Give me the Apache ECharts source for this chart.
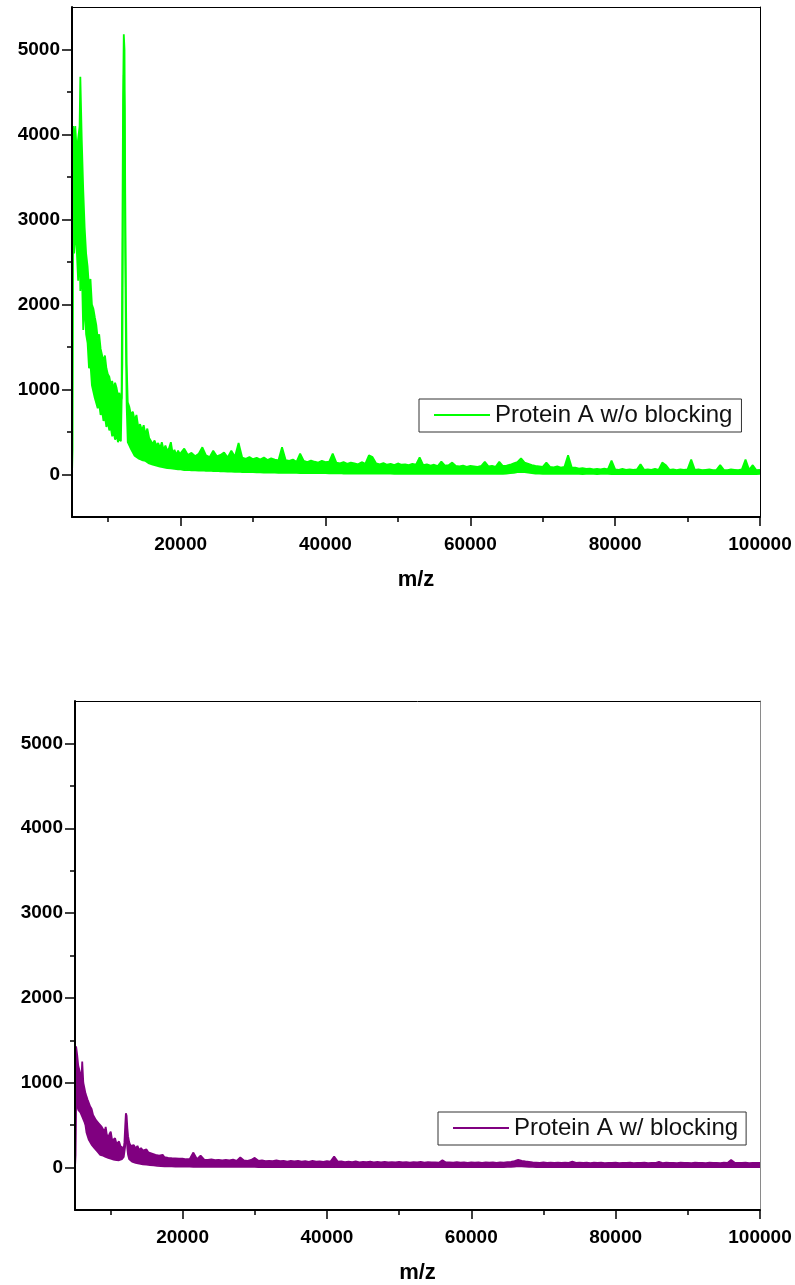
<!DOCTYPE html>
<html>
<head>
<meta charset="utf-8">
<title>Protein A mass spectra</title>
<script src="https://cdn.jsdelivr.net/npm/echarts@6/dist/echarts.min.js"></script>
<style>
  html, body { margin: 0; padding: 0; background: #ffffff; }
  #chart { width: 795px; height: 1285px; }
</style>
</head>
<body>
<div id="chart"></div>
<script>
// Spectra are stored as a lower and an upper intensity edge at each m/z sample;
// the band between the two edges is filled to give the dense noise trace.

// Low-mass region of the spectrum without blocking
const mzTopHead = [5000,5080,5150,5300,5450,5650,5850,6050,6150,6350,6550,6750,6950,
  7150,7350,7550,7750,7950,8150,8350,8550,8750,8950,9150,9350,9550,9750,9950,
  10150,10350,10550,10750,10950,11150,11350,11550,11750,
  11850,11950,12050,12150,12250,12350,12450,12550,12700,
  12900,13150,13400,13650,13900,14150,14400,14650,14900,15150,15400,15650,15900,
  16150,16400,16650,16900,17150,17400,17650,17900,18150,18400,18650,18900,
  19150,19400,19650,19900];
const hiTopHead = [0,3900,4100,3900,4100,3800,3950,4100,4680,3930,3350,2900,2600,
  2450,2200,2300,2000,1950,1850,1760,1600,1650,1480,1460,1330,1400,1250,1180,
  1150,1060,1100,1000,1080,1020,930,960,870,
  900,2700,4400,5180,5000,3300,2100,1300,850,
  800,700,740,640,700,560,590,520,580,470,540,430,420,
  360,400,340,370,310,380,290,340,280,310,380,250,
  290,230,280,240];
const loTopHead = [0,300,2800,2600,2900,2650,2280,2750,2160,2450,1700,2050,1650,
  1550,1250,1300,1050,1050,900,920,780,830,700,750,630,680,560,620,
  520,560,450,500,410,470,380,440,390,
  380,1300,3300,4700,4300,2600,1500,800,380,
  380,300,290,220,230,190,205,170,185,160,165,130,140,
  115,125,105,112,92,100,84,92,76,82,72,76,
  66,72,60,66];

// Low-mass region of the spectrum with blocking
const mzBottomHead = [5100,5180,5250,5400,5550,5700,5850,6000,6100,6250,
  6400,6550,6700,6850,7000,7200,7400,7600,7800,8000,
  8200,8400,8600,8800,9000,9200,9350,9500,9700,9850,
  10050,10250,10450,10650,10850,11050,11200,11400,11600,11850,
  11950,12050,12150,12250,12350,12450,12600,12800,13000,13250,
  13500,13750,14000,14250,14500,14750,15000,15250,15500,15750,
  16000,16250,16500,16750,17000,17250,17500,17750,18000,18250,
  18500,18750,19000,19250,19500,19750];
const hiBottomHead = [0,1300,1430,1330,1200,1220,1100,1050,1250,1000,
  940,875,860,800,815,720,690,620,600,560,
  570,520,530,480,460,420,480,390,360,390,
  425,320,310,345,280,280,307,250,250,228,
  300,480,640,610,470,370,300,255,250,265,
  225,255,205,230,200,195,215,180,200,165,
  175,150,165,140,138,150,122,135,115,130,
  110,125,108,118,104,112];
const loBottomHead = [0,150,700,740,680,700,650,660,600,620,
  540,500,410,400,330,320,270,270,230,235,
  190,180,150,158,140,140,125,130,115,120,
  105,110,95,100,88,92,86,95,100,125,
  140,250,420,380,230,150,100,85,70,62,
  56,50,46,42,39,36,34,31,29,27,
  25,23,21,19,18,17,16,15,15,14,
  14,13,13,13,12,12];

// High-mass region, sampled every 500 m/z, shared by both spectra
const mzTail = [
  20000,20500,21000,21500,22000,22500,23000,23500,24000,24500,
  25000,25500,26000,26500,27000,27500,28000,28500,29000,29500,
  30000,30500,31000,31500,32000,32500,33000,33500,34000,34500,
  35000,35500,36000,36500,37000,37500,38000,38500,39000,39500,
  40000,40500,41000,41500,42000,42500,43000,43500,44000,44500,
  45000,45500,46000,46500,47000,47500,48000,48500,49000,49500,
  50000,50500,51000,51500,52000,52500,53000,53500,54000,54500,
  55000,55500,56000,56500,57000,57500,58000,58500,59000,59500,
  60000,60500,61000,61500,62000,62500,63000,63500,64000,64500,
  65000,65500,66000,66500,67000,67500,68000,68500,69000,69500,
  70000,70500,71000,71500,72000,72500,73000,73500,74000,74500,
  75000,75500,76000,76500,77000,77500,78000,78500,79000,79500,
  80000,80500,81000,81500,82000,82500,83000,83500,84000,84500,
  85000,85500,86000,86500,87000,87500,88000,88500,89000,89500,
  90000,90500,91000,91500,92000,92500,93000,93500,94000,94500,
  95000,95500,96000,96500,97000,97500,98000,98500,99000,99500,
  100000];
const hiTopTail = [
  250,305,230,255,215,245,320,225,205,280,
  215,230,260,200,280,210,370,200,185,205,
  180,195,175,200,170,190,175,165,320,170,
  160,175,150,245,160,145,165,150,140,160,
  145,150,245,140,130,145,125,140,130,120,
  145,125,225,205,130,120,135,115,125,110,
  130,115,120,110,125,115,200,110,120,105,
  115,100,153,105,110,140,100,95,105,90,
  100,95,90,100,150,95,100,90,150,100,
  105,115,130,145,190,140,125,110,100,95,
  90,140,90,85,95,80,90,225,85,80,
  70,75,65,70,60,65,60,70,60,165,
  60,55,65,55,60,55,60,120,55,60,
  55,65,55,140,110,55,60,50,60,55,
  60,175,55,60,50,55,60,50,55,110,
  55,50,60,55,50,60,175,55,110,50,
  55];
const loTopTail = [
  60,52,55,48,50,45,48,42,45,40,
  42,36,38,33,35,30,33,28,30,27,
  28,24,26,22,25,21,23,20,22,19,
  21,18,20,17,19,16,18,15,17,15,
  16,14,15,13,15,12,14,12,13,11,
  13,11,12,10,12,10,11,10,12,9,
  11,9,10,9,11,8,10,9,10,8,
  10,8,9,8,10,8,9,7,9,8,
  9,7,9,8,9,7,9,8,10,9,
  12,15,20,28,32,28,22,16,12,10,
  9,8,9,7,9,8,9,7,8,7,
  8,6,8,7,8,6,8,7,8,6,
  8,6,7,6,8,6,7,6,8,6,
  7,6,8,6,7,6,8,6,7,6,
  7,6,8,6,7,6,8,6,7,6,
  7,6,8,6,7,6,8,6,7,6,
  7];
const hiBottomTail = [
  105,98,102,177,100,140,95,92,98,88,
  92,85,90,84,94,80,120,84,80,90,
  115,80,85,75,80,75,85,75,80,70,
  78,72,80,70,75,68,78,70,72,68,
  75,70,130,70,72,65,70,65,72,62,
  68,64,70,62,66,60,68,62,65,60,
  66,60,64,58,65,60,66,58,64,60,
  62,58,85,60,62,58,63,57,62,56,
  62,58,60,56,62,57,60,56,62,58,
  64,66,75,90,80,72,66,60,58,55,
  60,56,58,55,59,54,58,56,70,55,
  58,54,57,53,58,54,57,53,56,54,
  57,53,56,54,58,53,56,54,57,53,
  56,54,68,53,57,54,56,53,57,54,
  56,53,57,54,56,53,57,54,56,53,
  57,54,90,58,56,54,57,53,56,54,
  55];
const loBottomTail = [
  12,11,12,10,11,10,11,10,11,9,
  10,9,10,9,10,8,9,8,9,8,
  8,7,8,6,8,7,8,6,8,7,
  8,6,7,6,8,7,8,6,7,6,
  8,6,9,6,7,6,8,6,7,6,
  8,6,7,6,8,6,7,6,8,6,
  7,6,8,6,7,6,8,6,7,6,
  8,6,9,6,7,6,8,6,7,6,
  8,6,7,6,8,6,7,6,8,7,
  9,10,12,16,15,12,10,8,7,6,
  8,6,7,6,8,6,7,6,8,6,
  7,6,8,6,7,6,8,6,7,6,
  8,6,7,6,8,6,7,6,8,6,
  7,6,8,6,7,6,8,6,7,6,
  8,6,7,6,8,6,7,6,8,6,
  7,6,9,6,7,6,8,6,7,6,
  7];

// Axis ticks and labels
const xLabelValues = [20000, 40000, 60000, 80000, 100000];
const xMinorValues = [10000, 30000, 50000, 70000, 90000];
const yLabelValues = [0, 1000, 2000, 3000, 4000, 5000];
const yMinorValues = [500, 1500, 2500, 3500, 4500];

const seriesNames = ['Protein A w/o blocking', 'Protein A w/ blocking'];
const seriesColors = ['#00ff00', '#800080'];

const FONT = 'Liberation Sans, Arial, Helvetica, sans-serif';
const X_MAX = 100000;
const Y_MIN = -500;
const Y_MAX = 5500;

const mzTop = mzTopHead.concat(mzTail);
const loTop = loTopHead.concat(loTopTail);
const hiTop = hiTopHead.concat(hiTopTail);
const mzBottom = mzBottomHead.concat(mzTail);
const loBottom = loBottomHead.concat(loBottomTail);
const hiBottom = hiBottomHead.concat(hiBottomTail);

const panels = [
  { mz: mzTop, lo: loTop, hi: hiTop, xMin: 5000,
    grid: { left: 72, right: 35, top: 7, height: 510 },
    legend: { left: 419, top: 399, padding: [4, 9, 5, 15] }, frameRight: '#000000' },
  { mz: mzBottom, lo: loBottom, hi: hiBottom, xMin: 5100,
    grid: { left: 75, right: 35, top: 701, height: 509 },
    legend: { left: 438, top: 1112, padding: [4, 8, 5, 15] }, frameRight: '#8a8a8a' }
];

const grids = [], xAxes = [], yAxes = [], series = [], legends = [];

panels.forEach((p, i) => {
  grids.push(Object.assign({ containLabel: false }, p.grid));
  const xBase = xAxes.length;
  const yBase = yAxes.length;
  const name = seriesNames[i];
  const color = seriesColors[i];

  // main x axis: long ticks and labels
  xAxes.push({
    type: 'value', gridIndex: i, position: 'bottom', min: p.xMin, max: X_MAX, z: 6,
    name: 'm/z', nameLocation: 'middle', nameGap: 52,
    nameTextStyle: { fontFamily: FONT, fontSize: 22, fontWeight: 'bold', color: '#000' },
    axisLine: { show: true, onZero: false, lineStyle: { color: '#000', width: 2 } },
    axisTick: { show: true, customValues: xLabelValues, length: 9, lineStyle: { color: '#000', width: 1.5 } },
    axisLabel: { show: true, customValues: xLabelValues, margin: 18, formatter: v => String(v),
      fontFamily: FONT, fontSize: 19, fontWeight: 'bold', color: '#000' },
    splitLine: { show: false }
  });
  // minor x ticks
  xAxes.push({
    type: 'value', gridIndex: i, position: 'bottom', min: p.xMin, max: X_MAX, z: 6,
    axisLine: { show: false, onZero: false },
    axisTick: { show: true, customValues: xMinorValues, length: 5, lineStyle: { color: '#000', width: 1.5 } },
    axisLabel: { show: false }, splitLine: { show: false }
  });
  // top frame edge
  xAxes.push({
    type: 'value', gridIndex: i, position: 'top', min: p.xMin, max: X_MAX, z: 6,
    axisLine: { show: true, onZero: false, lineStyle: { color: '#000', width: 1 } },
    axisTick: { show: false }, axisLabel: { show: false }, splitLine: { show: false }
  });

  // main y axis
  yAxes.push({
    type: 'value', gridIndex: i, position: 'left', min: Y_MIN, max: Y_MAX, z: 6,
    axisLine: { show: true, onZero: false, lineStyle: { color: '#000', width: 2 } },
    axisTick: { show: true, customValues: yLabelValues, length: 10, lineStyle: { color: '#000', width: 1.5 } },
    axisLabel: { show: true, customValues: yLabelValues, margin: 12, formatter: v => String(v),
      fontFamily: FONT, fontSize: 19, fontWeight: 'bold', color: '#000' },
    splitLine: { show: false }
  });
  // minor y ticks
  yAxes.push({
    type: 'value', gridIndex: i, position: 'left', min: Y_MIN, max: Y_MAX, z: 6,
    axisLine: { show: false, onZero: false },
    axisTick: { show: true, customValues: yMinorValues, length: 5, lineStyle: { color: '#000', width: 1.5 } },
    axisLabel: { show: false }, splitLine: { show: false }
  });
  // right frame edge
  yAxes.push({
    type: 'value', gridIndex: i, position: 'right', min: Y_MIN, max: Y_MAX, z: 6,
    axisLine: { show: true, onZero: false, lineStyle: { color: p.frameRight, width: 1 } },
    axisTick: { show: false }, axisLabel: { show: false }, splitLine: { show: false }
  });

  // upper edge of the noise band, filled down to zero intensity
  series.push({
    type: 'line', name: name, xAxisIndex: xBase, yAxisIndex: yBase,
    symbol: 'none', silent: true, z: 3,
    data: p.mz.map((m, k) => [m, p.hi[k]]),
    lineStyle: { color: color, width: 1.8 },
    areaStyle: { color: color, opacity: 1, origin: 0 },
    itemStyle: { color: color }
  });
  // lower edge: clears everything beneath it so only the band between the edges stays coloured
  series.push({
    type: 'line', name: name + ' (lower edge)', xAxisIndex: xBase, yAxisIndex: yBase,
    symbol: 'none', silent: true, z: 3,
    data: p.mz.map((m, k) => [m, p.lo[k]]),
    lineStyle: { color: color, width: 1.8 },
    areaStyle: { color: '#ffffff', opacity: 1, origin: 'start' },
    itemStyle: { color: color }
  });

  legends.push(Object.assign({
    data: [name], orient: 'horizontal', icon: 'rect', itemWidth: 56, itemHeight: 2,
    borderColor: '#333', borderWidth: 1, selectedMode: false,
    textStyle: { fontFamily: FONT, fontSize: 24, color: '#111' }
  }, p.legend));
});

const chart = echarts.init(document.getElementById('chart'), null, { renderer: 'canvas' });
chart.setOption({
  animation: false,
  backgroundColor: '#ffffff',
  grid: grids,
  xAxis: xAxes,
  yAxis: yAxes,
  legend: legends,
  series: series
});
</script>
</body>
</html>
